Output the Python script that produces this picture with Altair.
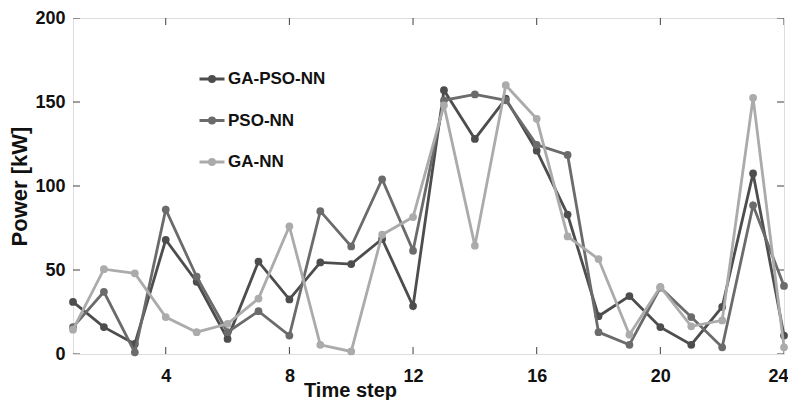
import altair as alt
import pandas as pd

steps = list(range(1, 25))
series_names = ["GA-PSO-NN", "PSO-NN", "GA-NN"]
ga_pso_nn = [31, 16, 6, 68, 43, 9, 55, 32.5, 54.5, 53.5, 68.5, 28.5, 157, 128, 152, 121, 83, 22.5, 34.5, 16, 5.5, 28, 107.5, 11]
pso_nn = [16, 37, 1, 86, 46, 13, 25.5, 11, 85, 64, 104, 61.5, 151, 154.5, 151, 124.5, 118.5, 13, 5.5, 39.5, 22, 4, 88.5, 40.5]
ga_nn = [14.5, 50.5, 48, 22, 13, 18, 33, 76, 5.5, 1.5, 71, 81.5, 148, 64.5, 160, 140, 70, 56.5, 11.5, 40, 16.5, 20, 152.5, 4]
x_ticks = [4, 8, 12, 16, 20, 24]
y_ticks = [0, 50, 100, 150, 200]
colors = ["#4d4d4d", "#6b6b6b", "#ababab"]

rows = []
for name, vals in zip(series_names, [ga_pso_nn, pso_nn, ga_nn]):
    for t, v in zip(steps, vals):
        rows.append({"t": t, "value": v, "series": name})
df = pd.DataFrame(rows)

# tick marks on all four frame edges (inward), from the tick value lists
x_tick_df = pd.DataFrame([{"t": t, "value": e} for t in x_ticks for e in (y_ticks[0], y_ticks[-1])])
y_tick_df = pd.DataFrame([{"t": e, "value": v} for v in y_ticks for e in (steps[0], steps[-1])])

W, H = 711, 336
FONT = "Liberation Sans"

xscale = alt.Scale(domain=[steps[0], steps[-1]], nice=False, zero=False)
yscale = alt.Scale(domain=[y_ticks[0], y_ticks[-1]], nice=False)

legend = alt.Legend(
    title=None, orient="none", legendX=125, legendY=47, padding=0,
    symbolType="M-1,0H1M-0.2,0A0.2,0.2 0 1,1 0.2,0A0.2,0.2 0 1,1 -0.2,0",
    symbolSize=625, symbolStrokeWidth=3, rowPadding=18.5, labelOffset=2,
    labelFont=FONT, labelFontSize=17, labelFontWeight="bold", labelColor="#111111",
)
color = alt.Color("series:N", scale=alt.Scale(domain=series_names, range=colors), legend=legend)

main_x = alt.X("t:Q", scale=xscale, axis=alt.Axis(
    values=x_ticks, ticks=False, domain=False, grid=False, labelFlush=True, labelFlushOffset=4,
    labelFont=FONT, labelFontSize=18, labelFontWeight="bold", labelColor="#111111", labelPadding=13,
    title="Time step", titleFont=FONT, titleFontSize=20, titleFontWeight="bold", titleColor="#111111",
    titleX=277, titleY=42, titleBaseline="alphabetic"))
main_y = alt.Y("value:Q", scale=yscale, axis=alt.Axis(
    values=y_ticks, ticks=False, domain=False, grid=False, labelFlush=False,
    labelFont=FONT, labelFontSize=18, labelFontWeight="bold", labelColor="#111111", labelPadding=8,
    title="Power [kW]", titleFont=FONT, titleFontSize=22, titleFontWeight="bold", titleColor="#111111",
    titlePadding=3))

xt = alt.X("t:Q", scale=xscale)
yt = alt.Y("value:Q", scale=yscale)

x_tick_marks = alt.Chart(x_tick_df).mark_tick(
    orient="vertical", size=14, thickness=1, color="#404040", clip=True, opacity=1
).encode(x=xt, y=yt)
y_tick_marks = alt.Chart(y_tick_df).mark_tick(
    orient="horizontal", size=14, thickness=1, color="#404040", clip=True, opacity=1
).encode(x=xt, y=yt)

layers = []
for i, s in enumerate(series_names):
    xe, ye = (main_x, main_y) if i == 0 else (xt, yt)
    layers.append(
        alt.Chart(df).transform_filter(alt.datum.series == s)
        .mark_line(strokeWidth=2.8, point=alt.OverlayMarkDef(filled=True, size=60, opacity=1))
        .encode(x=xe, y=ye, color=color)
    )

chart = alt.layer(x_tick_marks, y_tick_marks, *layers).properties(
    width=W, height=H,
    autosize=alt.AutoSizeParams(type="none"),
    padding={"left": 65, "top": 10, "right": 4, "bottom": 46},
).configure_view(stroke="#404040", strokeWidth=1.2).configure(background="white")

chart.save("out.html", embed_options={"renderer": "svg", "actions": False})
